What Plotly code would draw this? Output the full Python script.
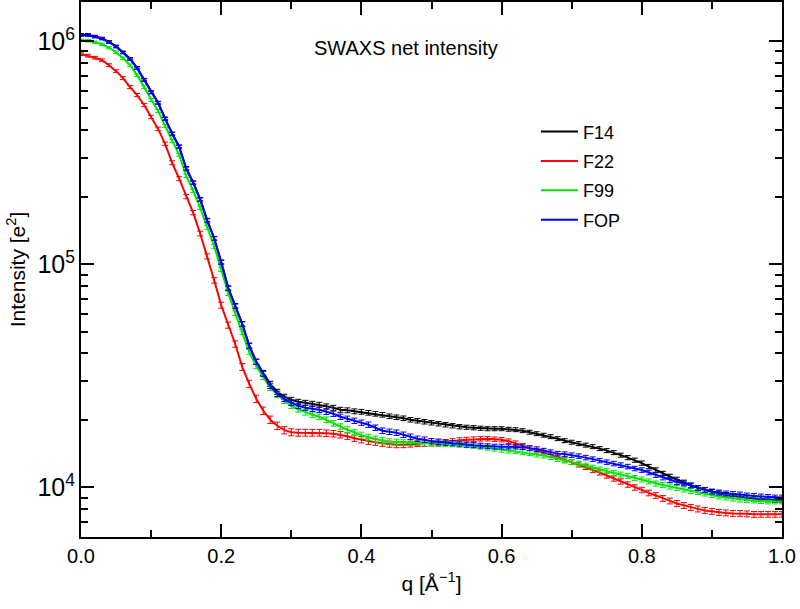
import plotly.graph_objects as go

q = [round(i * 0.01, 2) for i in range(101)]

F14 = [1.070e6, 1.070e6, 1.052e6, 1.031e6, 9.95e5, 9.50e5, 8.93e5, 8.35e5, 7.61e5, 6.73e5,
       5.92e5, 5.31e5, 4.51e5, 3.86e5, 3.38e5, 2.70e5, 2.33e5, 1.96e5, 1.58e5, 1.31e5,
       1.026e5, 7.85e4, 6.53e4, 5.42e4, 4.33e4, 3.67e4, 3.262e4, 2.913e4, 2.683e4, 2.548e4,
       2.471e4, 2.421e4, 2.396e4, 2.372e4, 2.348e4, 2.311e4, 2.276e4, 2.230e4, 2.218e4, 2.195e4,
       2.184e4, 2.162e4, 2.140e4, 2.118e4, 2.085e4, 2.064e4, 2.043e4, 2.012e4, 1.991e4, 1.971e4,
       1.951e4, 1.931e4, 1.911e4, 1.891e4, 1.872e4, 1.862e4, 1.853e4, 1.843e4, 1.834e4, 1.834e4,
       1.834e4, 1.824e4, 1.815e4, 1.797e4, 1.769e4, 1.742e4, 1.715e4, 1.689e4, 1.655e4, 1.621e4,
       1.596e4, 1.572e4, 1.548e4, 1.524e4, 1.493e4, 1.463e4, 1.433e4, 1.396e4, 1.361e4, 1.326e4,
       1.286e4, 1.241e4, 1.197e4, 1.155e4, 1.120e4, 1.086e4, 1.053e4, 1.021e4, 9949, 9746,
       9548, 9402, 9258, 9163, 9070, 8977, 8931, 8885, 8840, 8795, 8795]

F22 = [8.749e5, 8.616e5, 8.438e5, 8.224e5, 7.813e5, 7.346e5, 6.836e5, 6.232e5, 5.740e5, 5.180e5,
       4.579e5, 4.048e5, 3.469e5, 2.854e5, 2.421e5, 2.012e5, 1.706e5, 1.375e5, 1.086e5, 8.482e4,
       6.560e4, 5.342e4, 4.395e4, 3.469e4, 2.913e4, 2.497e4, 2.207e4, 2.012e4, 1.891e4, 1.806e4,
       1.769e4, 1.760e4, 1.760e4, 1.760e4, 1.760e4, 1.751e4, 1.742e4, 1.724e4, 1.698e4, 1.663e4,
       1.638e4, 1.613e4, 1.596e4, 1.580e4, 1.564e4, 1.556e4, 1.556e4, 1.564e4, 1.572e4, 1.572e4,
       1.580e4, 1.588e4, 1.596e4, 1.613e4, 1.629e4, 1.638e4, 1.646e4, 1.655e4, 1.655e4, 1.646e4,
       1.638e4, 1.613e4, 1.580e4, 1.540e4, 1.501e4, 1.463e4, 1.433e4, 1.404e4, 1.368e4, 1.333e4,
       1.299e4, 1.267e4, 1.234e4, 1.197e4, 1.167e4, 1.131e4, 1.097e4, 1.064e4, 1.031e4, 1.000e4,
       9746, 9451, 9210, 8931, 8704, 8482, 8309, 8140, 8016, 7893,
       7813, 7733, 7693, 7654, 7654, 7615, 7576, 7576, 7576, 7576, 7576]

F99 = [1.010e6, 1.005e6, 9.898e5, 9.696e5, 9.354e5, 8.931e5, 8.395e5, 7.813e5, 7.050e5, 6.232e5,
       5.453e5, 4.870e5, 4.174e5, 3.578e5, 3.098e5, 2.497e5, 2.140e5, 1.797e5, 1.463e5, 1.203e5,
       9.499e4, 7.422e4, 6.043e4, 4.971e4, 4.048e4, 3.505e4, 3.130e4, 2.796e4, 2.601e4, 2.446e4,
       2.323e4, 2.241e4, 2.173e4, 2.118e4, 2.075e4, 2.012e4, 1.941e4, 1.872e4, 1.815e4, 1.760e4,
       1.715e4, 1.680e4, 1.646e4, 1.621e4, 1.604e4, 1.596e4, 1.588e4, 1.588e4, 1.588e4, 1.580e4,
       1.580e4, 1.572e4, 1.572e4, 1.564e4, 1.556e4, 1.548e4, 1.540e4, 1.524e4, 1.509e4, 1.493e4,
       1.478e4, 1.463e4, 1.455e4, 1.440e4, 1.426e4, 1.404e4, 1.389e4, 1.368e4, 1.340e4, 1.320e4,
       1.299e4, 1.280e4, 1.254e4, 1.228e4, 1.203e4, 1.185e4, 1.161e4, 1.143e4, 1.125e4, 1.102e4,
       1.086e4, 1.064e4, 1.042e4, 1.026e4, 1.010e4, 9949, 9797, 9646, 9548, 9402,
       9258, 9116, 9023, 8931, 8840, 8795, 8749, 8704, 8660, 8660, 8660]

FOP = [1.064e6, 1.064e6, 1.047e6, 1.026e6, 9.898e5, 9.451e5, 8.885e5, 8.309e5, 7.576e5, 6.697e5,
       5.890e5, 5.287e5, 4.486e5, 3.845e5, 3.364e5, 2.683e5, 2.323e5, 1.951e5, 1.572e5, 1.306e5,
       1.021e5, 7.813e4, 6.494e4, 5.397e4, 4.305e4, 3.652e4, 3.229e4, 2.854e4, 2.628e4, 2.497e4,
       2.396e4, 2.323e4, 2.276e4, 2.253e4, 2.230e4, 2.184e4, 2.140e4, 2.075e4, 2.033e4, 1.991e4,
       1.951e4, 1.911e4, 1.853e4, 1.797e4, 1.778e4, 1.760e4, 1.724e4, 1.689e4, 1.655e4, 1.638e4,
       1.613e4, 1.604e4, 1.588e4, 1.580e4, 1.572e4, 1.556e4, 1.548e4, 1.540e4, 1.532e4, 1.524e4,
       1.524e4, 1.524e4, 1.524e4, 1.516e4, 1.501e4, 1.486e4, 1.463e4, 1.440e4, 1.418e4, 1.411e4,
       1.396e4, 1.382e4, 1.361e4, 1.340e4, 1.320e4, 1.299e4, 1.280e4, 1.260e4, 1.241e4, 1.216e4,
       1.197e4, 1.167e4, 1.137e4, 1.108e4, 1.080e4, 1.058e4, 1.042e4, 1.021e4, 9949, 9746,
       9597, 9499, 9402, 9354, 9306, 9210, 9163, 9116, 9070, 9023, 9023]

# absolute uncertainty (e^2), shared by all systems
ERR = [12000, 12000, 11800, 11500, 11200, 10800, 10300, 9800, 9200, 8500,
       7800, 7100, 6400, 5700, 5000, 4400, 3800, 3300, 2800, 2400,
       2000, 1700, 1450, 1250, 1100, 950, 850, 780, 720, 680,
       650, 630, 620, 610, 600, 590, 580, 570, 560, 550,
       540, 530, 520, 510, 500, 490, 480, 470, 460, 455,
       450, 440, 430, 420, 410, 400, 395, 390, 385, 380,
       375, 370, 365, 360, 355, 350, 345, 340, 335, 330,
       325, 320, 315, 310, 305, 300, 296, 292, 288, 284,
       280, 276, 272, 268, 264, 260, 256, 252, 248, 244,
       240, 238, 236, 234, 232, 230, 228, 226, 224, 222, 220]

series = [("F14", F14, "#000000"),
          ("F22", F22, "#ff0000"),
          ("F99", F99, "#00e600"),
          ("FOP", FOP, "#0000ff")]

FONT = "Liberation Sans, Arial, Helvetica, sans-serif"

fig = go.Figure()
for name, vals, col in series:
    fig.add_trace(go.Scatter(
        x=q, y=vals, name=name, mode="lines", legendgroup=name,
        line=dict(color=col, width=2),
        error_y=dict(type="data", array=ERR, visible=True, color=col,
                     thickness=1, width=3),
    ))

fig.add_annotation(text="SWAXS net intensity", xref="paper", yref="paper",
                   x=0.463, y=0.938, showarrow=False,
                   font=dict(size=20, color="black", family=FONT))

fig.update_layout(
    width=800, height=609,
    margin=dict(l=81, r=18, t=2, b=72, autoexpand=False),
    paper_bgcolor="white", plot_bgcolor="white",
    font=dict(family=FONT, color="black", size=19),
    legend=dict(x=0.649, y=0.792, xanchor="left", yanchor="top",
                bgcolor="rgba(0,0,0,0)", font=dict(size=18, family=FONT),
                tracegroupgap=3, itemwidth=37),
    showlegend=True,
)

fig.update_xaxes(
    range=[0, 1], dtick=0.2, tick0=0, tickformat=".1f", automargin=False,
    ticks="inside", ticklen=13, tickwidth=1.5, tickcolor="black",
    showline=True, linewidth=2, linecolor="black", mirror="allticks",
    showgrid=False, zeroline=False,
    minor=dict(ticks="inside", dtick=0.1, ticklen=7, tickwidth=1.5, tickcolor="black", showgrid=False),
    tickfont=dict(size=20, family=FONT),
    title=dict(text="q [Å<sup>−1</sup>]", font=dict(size=21, family=FONT), standoff=10),
)

fig.update_yaxes(
    type="log", range=[3.778, 6.176], dtick=1, exponentformat="power", automargin=False,
    ticks="inside", ticklen=13, tickwidth=1.5, tickcolor="black",
    showline=True, linewidth=2, linecolor="black", mirror="allticks",
    showgrid=False, zeroline=False,
    minor=dict(ticks="inside", dtick="D1", ticklen=7, tickwidth=1.5, tickcolor="black", showgrid=False),
    tickfont=dict(size=20, family=FONT),
    title=dict(text="Intensity [e<sup>2</sup>]", font=dict(size=21, family=FONT), standoff=6),
)

fig.write_html("out.html", config={"displayModeBar": False},
               post_script="document.body.style.margin='0';")
